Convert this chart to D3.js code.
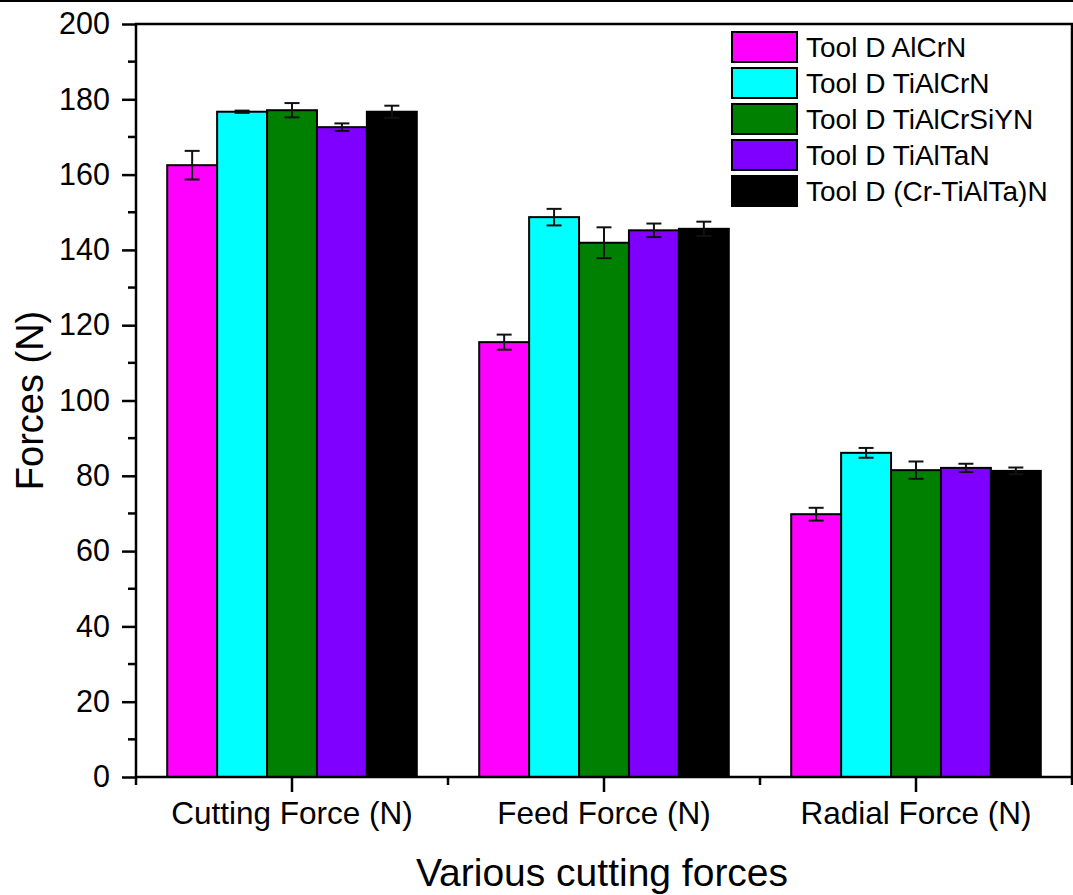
<!DOCTYPE html>
<html>
<head>
<meta charset="utf-8">
<script src="https://cdn.jsdelivr.net/npm/d3@7"></script>
<style>
  body { margin: 0; background: #fff; }
  svg { display: block; font-family: Arial, "Liberation Sans", sans-serif; }
</style>
</head>
<body>
<svg class="chart"></svg>
<script>
// data
const categories = ["Cutting Force (N)", "Feed Force (N)", "Radial Force (N)"];
const series = ["Tool D AlCrN", "Tool D TiAlCrN", "Tool D TiAlCrSiYN", "Tool D TiAlTaN", "Tool D (Cr-TiAlTa)N"];
const colors = ["#ff00ff", "#00ffff", "#008000", "#8000ff", "#000000"];
const alcrn       = [162.5, 115.5, 69.8];
const tialcrn     = [176.7, 148.7, 86.1];
const tialcrsiyn  = [177.1, 141.9, 81.5];
const tialtan     = [172.6, 145.2, 82.1];
const crtialtan   = [176.7, 145.6, 81.3];
const alcrnErr      = [3.8, 2.0, 1.7];
const tialcrnErr    = [0.3, 2.2, 1.3];
const tialcrsiynErr = [1.9, 4.1, 2.3];
const tialtanErr    = [1.0, 1.8, 1.1];
const crtialtanErr  = [1.6, 1.9, 0.9];
const yTicks = [0, 20, 40, 60, 80, 100, 120, 140, 160, 180, 200];

const values = [alcrn, tialcrn, tialcrsiyn, tialtan, crtialtan];
const errs = [alcrnErr, tialcrnErr, tialcrsiynErr, tialtanErr, crtialtanErr];

let svg = d3.select(".chart"),
    W = 1073, H = 895,
    margin = {top: 24, right: 1, bottom: 118, left: 136},
    width = W - margin.left - margin.right,
    height = H - margin.top - margin.bottom;

svg.attr("width", W).attr("height", H);

let x0 = d3.scaleBand().domain(categories).range([0, width]).paddingInner(0.2).paddingOuter(0.1),
    x1 = d3.scaleBand().domain(series).range([0, x0.bandwidth()]),
    y = d3.scaleLinear().domain([0, 200]).range([height, 0]);

// thin border at the very top of the picture
svg.append("line").attr("x1", 0).attr("x2", W).attr("y1", 1).attr("y2", 1)
  .attr("stroke", "#000").attr("stroke-width", 2);

let g = svg.append("g").attr("transform", "translate(" + margin.left + "," + margin.top + ")");

// bars
let rows = [];
series.forEach((s, si) => categories.forEach((c, ci) => {
  rows.push({s: s, c: c, v: values[si][ci], e: errs[si][ci], col: colors[si]});
}));

g.selectAll("rect.bar").data(rows).enter().append("rect")
  .attr("class", "bar")
  .attr("x", d => x0(d.c) + x1(d.s))
  .attr("y", d => y(d.v))
  .attr("width", x1.bandwidth())
  .attr("height", d => y(0) - y(d.v))
  .attr("fill", d => d.col)
  .attr("stroke", "#000").attr("stroke-width", 2);

// error bars
let eb = g.selectAll("g.err").data(rows).enter().append("g").attr("class", "err")
  .attr("transform", d => "translate(" + (x0(d.c) + x1(d.s) + x1.bandwidth() / 2) + ",0)");
eb.append("line").attr("x1", 0).attr("x2", 0)
  .attr("y1", d => y(d.v + d.e)).attr("y2", d => y(d.v - d.e));
eb.append("line").attr("x1", -7.5).attr("x2", 7.5)
  .attr("y1", d => y(d.v + d.e)).attr("y2", d => y(d.v + d.e));
eb.append("line").attr("x1", -7.5).attr("x2", 7.5)
  .attr("y1", d => y(d.v - d.e)).attr("y2", d => y(d.v - d.e));
eb.selectAll("line").attr("stroke", "#111").attr("stroke-width", 2);

// y axis
let yAxis = d3.axisLeft(y).tickValues(yTicks).tickSize(14).tickPadding(12);
let ya = g.append("g").call(yAxis);
ya.select(".domain").remove();
ya.selectAll(".tick line").attr("stroke-width", 2.5);
ya.selectAll(".tick text").attr("font-size", 30.5).attr("font-family", "Arial, 'Liberation Sans', sans-serif").attr("fill", "#000");
let yMinor = d3.range(10, 200, 20);
g.selectAll("line.ymin").data(yMinor).enter().append("line")
  .attr("x1", -8).attr("x2", 0).attr("y1", d => y(d)).attr("y2", d => y(d))
  .attr("stroke", "#000").attr("stroke-width", 2.5);

// x axis
let xAxis = d3.axisBottom(x0).tickSize(15).tickPadding(10);
let xa = g.append("g").attr("transform", "translate(0," + height + ")").call(xAxis);
xa.select(".domain").remove();
xa.selectAll(".tick line").attr("stroke-width", 2.5);
xa.selectAll(".tick text").attr("font-size", 31.5).attr("font-family", "Arial, 'Liberation Sans', sans-serif").attr("fill", "#000");
let xBounds = categories.map(c => x0(c) - x0.step() * x0.paddingInner() / 2).concat([width]);
xBounds[0] = 0;
g.selectAll("line.xmin").data(xBounds).enter().append("line")
  .attr("x1", d => d).attr("x2", d => d).attr("y1", height).attr("y2", height + 8)
  .attr("stroke", "#000").attr("stroke-width", 2.5);

// frame
g.append("rect").attr("x", 0).attr("y", 0).attr("width", width).attr("height", height)
  .attr("fill", "none").attr("stroke", "#000").attr("stroke-width", 2.5);

// axis titles
svg.append("text").attr("transform", "translate(43," + (margin.top + height / 2) + ") rotate(-90)")
  .attr("text-anchor", "middle").attr("font-size", 38).text("Forces (N)");
svg.append("text").attr("x", margin.left + width / 2 - 2).attr("y", 886)
  .attr("text-anchor", "middle").attr("font-size", 39).text("Various cutting forces");

// legend
let lg = svg.append("g").attr("transform", "translate(732,32)");
let li = lg.selectAll("g").data(series).enter().append("g")
  .attr("transform", (d, i) => "translate(0," + i * 36 + ")");
li.append("rect").attr("width", 65).attr("height", 30)
  .attr("fill", (d, i) => colors[i]).attr("stroke", "#000").attr("stroke-width", 2);
li.append("text").attr("x", 74).attr("y", 25).attr("font-size", 28).text(d => d);
</script>
</body>
</html>
